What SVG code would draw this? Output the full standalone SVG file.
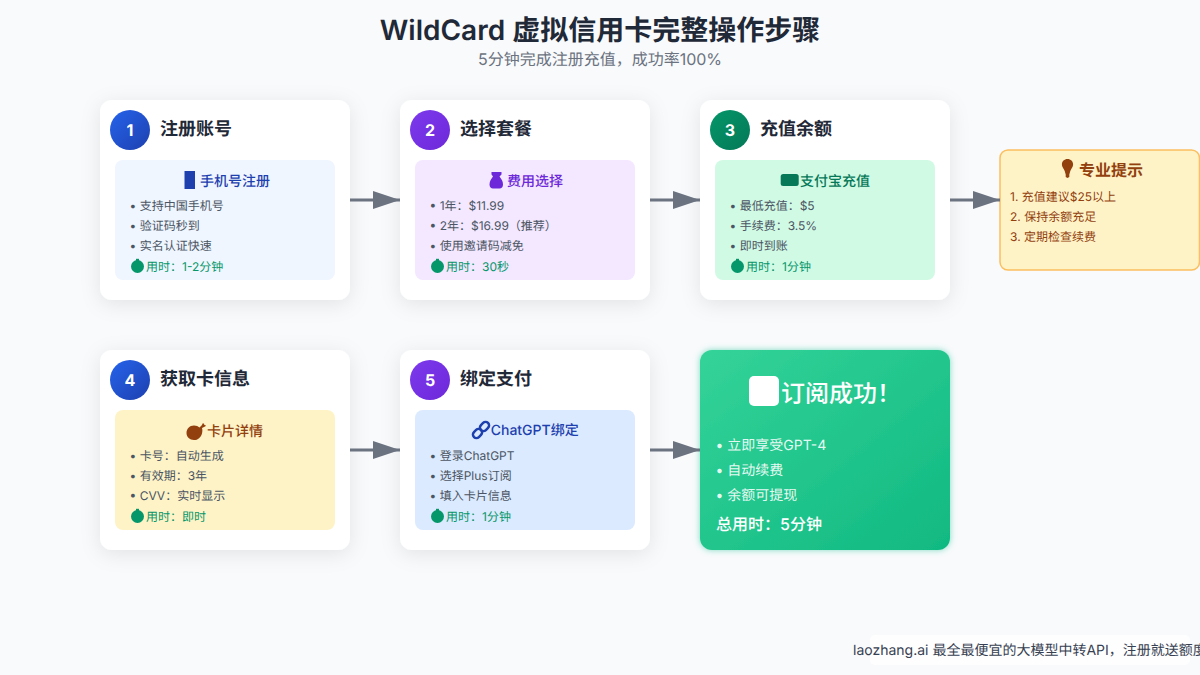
<svg xmlns="http://www.w3.org/2000/svg" width="1200" height="675" viewBox="0 0 1200 675">
<style>
text{font-family:Inter,"Noto Sans CJK SC",sans-serif;text-rendering:geometricPrecision}
.card{fill:#fff;filter:url(#sh)}
.ttl{font-size:18px;font-weight:600;fill:#1f2937}
.num{font-size:16px;font-weight:700;fill:#fff;text-anchor:middle}
.sub{font-size:14px;font-weight:500}
.it{font-size:12px;fill:#4b5563}
.tm{font-size:12px;fill:#059669}
.wi{font-size:14px;fill:#fff;fill-opacity:.9}
.tip{font-size:12px;fill:#92400e}
.conn{stroke:#6b7280;stroke-width:3;fill:none;marker-end:url(#ah)}
</style>
<defs>
<filter id="sh" x="-25%" y="-25%" width="150%" height="150%"><feDropShadow dx="0" dy="4" stdDeviation="10" flood-color="#000" flood-opacity=".09"/></filter>
<filter id="gl" x="-10%" y="-10%" width="120%" height="120%"><feDropShadow dx="0" dy="0" stdDeviation="3" flood-color="#10b981" flood-opacity=".5"/></filter>
<linearGradient id="gb" x1="0" y1="0" x2="1" y2="1"><stop offset="0" stop-color="#2563eb"/><stop offset="1" stop-color="#1e40af"/></linearGradient>
<linearGradient id="gp" x1="0" y1="0" x2="1" y2="1"><stop offset="0" stop-color="#7c3aed"/><stop offset="1" stop-color="#6d28d9"/></linearGradient>
<linearGradient id="gg" x1="0" y1="0" x2="1" y2="1"><stop offset="0" stop-color="#059669"/><stop offset="1" stop-color="#047857"/></linearGradient>
<linearGradient id="gs" x1="0" y1="0" x2="1" y2="1"><stop offset="0" stop-color="#34d399"/><stop offset="1" stop-color="#10b981"/></linearGradient>
<marker id="ah" markerWidth="10" markerHeight="7" refX="9" refY="3" orient="auto" markerUnits="strokeWidth"><polygon points="0 0,9 3,0 6" fill="#6b7280"/></marker>
<g id="clock" fill="#059669"><circle cx="137.500" cy="266.500" r="6.500"/><rect x="136" y="258.800" width="3" height="3"/></g>
</defs>
<rect width="1200" height="675" fill="#f8fafc"/>
<text x="600" y="40" text-anchor="middle" font-size="28" font-weight="600" fill="#1f2937">WildCard 虚拟信用卡完整操作步骤</text>
<text x="600" y="65" text-anchor="middle" font-size="16" fill="#6b7280">5分钟完成注册充值，成功率100%</text>

<g id="step1">
<rect class="card" x="100" y="100" width="250" height="200" rx="12"/>
<circle cx="130" cy="130" r="20" fill="url(#gb)"/>
<text class="num" x="130" y="136">1</text>
<text class="ttl" x="160" y="135">注册账号</text>
<rect x="115" y="160" width="220" height="120" rx="8" fill="#eff6ff"/>
<rect x="184.500" y="171" width="10.500" height="18" fill="#1e40af"/>
<text class="sub" x="200" y="186" fill="#1e40af">手机号注册</text>
<text class="it" x="129.500" y="210">• 支持中国手机号</text>
<text class="it" x="129.500" y="230">• 验证码秒到</text>
<text class="it" x="129.500" y="250">• 实名认证快速</text>
<use href="#clock"/>
<text class="tm" x="146" y="271">用时：1-2分钟</text>
</g>

<g id="step2">
<rect class="card" x="400" y="100" width="250" height="200" rx="12"/>
<circle cx="430" cy="130" r="20" fill="url(#gp)"/>
<text class="num" x="430" y="136">2</text>
<text class="ttl" x="460" y="135">选择套餐</text>
<rect x="415" y="160" width="220" height="120" rx="8" fill="#f3e8ff"/>
<path d="M491.500 172h10v2.500l-2 2c2 2.500 3.500 5 3.500 8 0 2.500-1.500 4-3.500 4h-6.500c-2 0-3.500-1.500-3.500-4 0-3 1.500-5.500 3.500-8l-1.500-2z" fill="#6d28d9"/>
<text class="sub" x="507" y="186" fill="#6d28d9">费用选择</text>
<text class="it" x="429.500" y="210">• 1年：$11.99</text>
<text class="it" x="429.500" y="230">• 2年：$16.99（推荐）</text>
<text class="it" x="429.500" y="250">• 使用邀请码减免</text>
<use href="#clock" x="300"/>
<text class="tm" x="446" y="271">用时：30秒</text>
</g>

<g id="step3">
<rect class="card" x="700" y="100" width="250" height="200" rx="12"/>
<circle cx="730" cy="130" r="20" fill="url(#gg)"/>
<text class="num" x="730" y="136">3</text>
<text class="ttl" x="760" y="135">充值余额</text>
<rect x="715" y="160" width="220" height="120" rx="8" fill="#d1fae5"/>
<rect x="780.700" y="174" width="18" height="12" rx="2.500" fill="#047857"/>
<text class="sub" x="800" y="186" fill="#047857">支付宝充值</text>
<text class="it" x="729.500" y="210">• 最低充值：$5</text>
<text class="it" x="729.500" y="230">• 手续费：3.5%</text>
<text class="it" x="729.500" y="250">• 即时到账</text>
<use href="#clock" x="600"/>
<text class="tm" x="746" y="271">用时：1分钟</text>
</g>

<g id="tips">
<rect x="1000" y="150" width="199.500" height="120" rx="8" fill="#fef3c7" stroke="#fbbf5f" stroke-width="1.500"/>
<path d="M1067.500 159c3.200 0 5.600 2.300 5.600 5.500 0 2.500-1.800 4-2.800 6.500l-1 3.500v2.500l-1.800 1-1.800-1v-2.500l-1-3.500c-1-2.500-2.800-4-2.800-6.500 0-3.200 2.400-5.500 5.600-5.500z" fill="#92400e"/>
<text x="1079" y="176" font-size="16" font-weight="600" fill="#92400e">专业提示</text>
<text class="tip" x="1010" y="200.500">1. 充值建议$25以上</text>
<text class="tip" x="1010" y="220.500">2. 保持余额充足</text>
<text class="tip" x="1010" y="240.500">3. 定期检查续费</text>
</g>

<g id="step4">
<rect class="card" x="100" y="350" width="250" height="200" rx="12"/>
<circle cx="130" cy="380" r="20" fill="url(#gb)"/>
<text class="num" x="130" y="386">4</text>
<text class="ttl" x="160" y="385">获取卡信息</text>
<rect x="115" y="410" width="220" height="120" rx="8" fill="#fef3c7"/>
<path d="M194 425.500c2.500 0 4 .7 5.500 2l2.500-2.500.5-1.500h1.500l.3 1.500 1.500.3-.3 1-3.500 1.800c.5 1.500.5 3.300 0 5.300-1.200 3.800-4 6.700-8 6.700-4.300 0-7.500-3-7.500-7 0-4.200 3-7.600 7.500-7.600z" fill="#92400e"/>
<text class="sub" x="207" y="436" fill="#92400e">卡片详情</text>
<text class="it" x="129.500" y="460">• 卡号：自动生成</text>
<text class="it" x="129.500" y="480">• 有效期：3年</text>
<text class="it" x="129.500" y="500">• CVV：实时显示</text>
<use href="#clock" y="250"/>
<text class="tm" x="146" y="521">用时：即时</text>
</g>

<g id="step5">
<rect class="card" x="400" y="350" width="250" height="200" rx="12"/>
<circle cx="430" cy="380" r="20" fill="url(#gp)"/>
<text class="num" x="430" y="386">5</text>
<text class="ttl" x="460" y="385">绑定支付</text>
<rect x="415" y="410" width="220" height="120" rx="8" fill="#dbeafe"/>
<g fill="none" stroke="#1e40af" stroke-width="2.500">
<rect x="472.500" y="430" width="10" height="7" rx="3.500" transform="rotate(-45 477.500 433.500)"/>
<rect x="479.500" y="423" width="10" height="7" rx="3.500" transform="rotate(-45 484.500 426.500)"/>
</g>
<text class="sub" x="490.700" y="435" fill="#1e40af">ChatGPT绑定</text>
<text class="it" x="429.500" y="460">• 登录ChatGPT</text>
<text class="it" x="429.500" y="480">• 选择Plus订阅</text>
<text class="it" x="429.500" y="500">• 填入卡片信息</text>
<use href="#clock" x="300" y="250"/>
<text class="tm" x="446" y="521">用时：1分钟</text>
</g>

<g id="success">
<rect x="700" y="350" width="250" height="200" rx="12" fill="url(#gs)" filter="url(#gl)"/>
<rect x="749" y="376" width="30" height="30" rx="5" fill="#fff"/>
<text x="781" y="402" font-size="24" font-weight="500" fill="#fff">订阅成功！</text>
<text class="wi" x="715.500" y="450">• 立即享受GPT-4</text>
<text class="wi" x="715.500" y="475">• 自动续费</text>
<text class="wi" x="715.500" y="500">• 余额可提现</text>
<text x="716" y="530" font-size="16" font-weight="500" fill="#fff">总用时：5分钟</text>
</g>

<g id="connectors">
<line class="conn" x1="350" y1="200" x2="400" y2="200"/>
<line class="conn" x1="650" y1="200" x2="700" y2="200"/>
<line class="conn" x1="950" y1="200" x2="1000" y2="200"/>
<line class="conn" x1="350" y1="450" x2="400" y2="450"/>
<line class="conn" x1="650" y1="450" x2="700" y2="450"/>
</g>

<g id="footer">
<rect x="870" y="635" width="320" height="30" rx="5" fill="#fff" fill-opacity=".8"/>
<text x="853" y="655" font-size="14" fill="#374151">laozhang.ai 最全最便宜的大模型中转API，注册就送额度</text>
</g>
</svg>
